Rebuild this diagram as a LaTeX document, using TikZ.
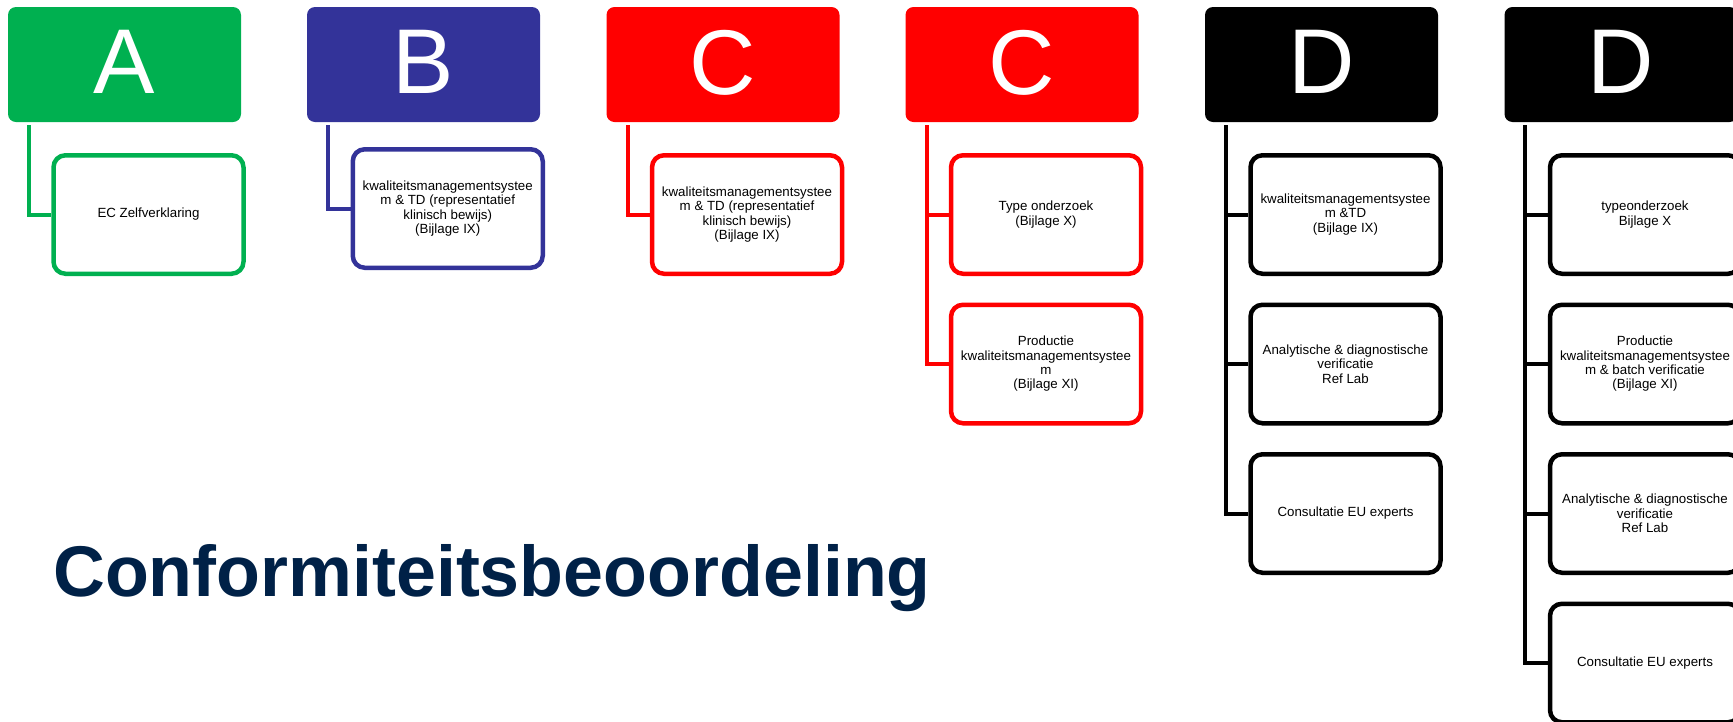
\documentclass[tikz,border=0pt]{standalone}
\usepackage{fontspec}
\setmainfont{Liberation Sans}
\definecolor{cgreen}{RGB}{0,176,80}
\definecolor{cblue}{RGB}{51,51,153}
\definecolor{cred}{RGB}{255,0,0}
\definecolor{cnavy}{RGB}{0,33,71}
\begin{document}
\begin{tikzpicture}[x=1pt,y=-1pt,
  hdr/.style={rounded corners=8pt, minimum width=233pt, minimum height=115pt, inner sep=0pt, text=white, font=\fontsize{92}{92}\selectfont},
  sub/.style={draw, fill=white, line width=4.5pt, rounded corners=12pt, minimum width=190pt, minimum height=118.5pt, inner sep=2pt, align=center, text=black, font=\fontsize{13.3}{14.3}\selectfont},
  conn/.style={line width=4pt}]
\path[use as bounding box] (0,0) rectangle (1733,721);
\clip (0,0) rectangle (1733,721);

% headers
\node[hdr, fill=cgreen] (hA) at (124.5,64.5) {\raisebox{4.5pt}{A}};
\node[hdr, fill=cblue] (hB) at (423.5,64.5) {\raisebox{4.5pt}{B}};
\node[hdr, fill=cred] (hC1) at (723,64.5) {\raisebox{4.5pt}{C}};
\node[hdr, fill=cred] (hC2) at (1022,64.5) {\raisebox{4.5pt}{C}};
\node[hdr, fill=black] (hD1) at (1321.5,64.5) {\raisebox{4.5pt}{D}};
\node[hdr, fill=black] (hD2) at (1621,64.5) {\raisebox{4.5pt}{D}};

% connector start points
\coordinate (tA) at (28.7,125);
\coordinate (tB) at (328,125);
\coordinate (tC1) at (627.5,125);
\coordinate (tC2) at (927,125);
\coordinate (tD1) at (1226,125);
\coordinate (tD2) at (1525,125);

% child boxes
\node[sub, draw=cgreen] (cA) at (148.5,214.5) {EC Zelfverklaring};
\node[sub, draw=cblue] (cB) at (447.75,208.5) {kwaliteitsmanagementsystee\\m \& TD (representatief\\klinisch bewijs)\\(Bijlage IX)};
\node[sub, draw=cred] (cC1) at (747,214.5) {kwaliteitsmanagementsystee\\m \& TD (representatief\\klinisch bewijs)\\(Bijlage IX)};
\node[sub, draw=cred] (cC21) at (1046,214.5) {Type onderzoek\\(Bijlage X)};
\node[sub, draw=cred] (cC22) at (1046,364) {Productie\\kwaliteitsmanagementsystee\\m\\(Bijlage XI)};
\node[sub, draw=black] (cD11) at (1345.5,214.5) {kwaliteitsmanagementsystee\\m \&TD\\(Bijlage IX)};
\node[sub, draw=black] (cD12) at (1345.5,364) {Analytische \& diagnostische\\verificatie\\Ref Lab};
\node[sub, draw=black] (cD13) at (1345.5,513.5) {Consultatie EU experts};
\node[sub, draw=black] (cD21) at (1645,214.5) {typeonderzoek\\Bijlage X};
\node[sub, draw=black] (cD22) at (1645,364) {Productie\\kwaliteitsmanagementsystee\\m \& batch verificatie\\(Bijlage XI)};
\node[sub, draw=black] (cD23) at (1645,513.5) {Analytische \& diagnostische\\verificatie\\Ref Lab};
\node[sub, draw=black] (cD24) at (1645,663) {Consultatie EU experts};

% connectors
\draw[conn, cgreen] (tA) |- (cA.west);
\draw[conn, cblue] (tB) |- (cB.west);
\draw[conn, cred] (tC1) |- (cC1.west);
\draw[conn, cred] (tC2) |- (cC21.west);
\draw[conn, cred] (tC2) |- (cC22.west);
\draw[conn, black] (tD1) |- (cD11.west);
\draw[conn, black] (tD1) |- (cD12.west);
\draw[conn, black] (tD1) |- (cD13.west);
\draw[conn, black] (tD2) |- (cD21.west);
\draw[conn, black] (tD2) |- (cD22.west);
\draw[conn, black] (tD2) |- (cD23.west);
\draw[conn, black] (tD2) |- (cD24.west);

% title
\node[anchor=base west, inner sep=0pt, text=cnavy, font=\fontsize{71.8}{72}\selectfont\bfseries] (title) at (53,596) {Conformiteitsbeoordeling};
\end{tikzpicture}
\end{document}
